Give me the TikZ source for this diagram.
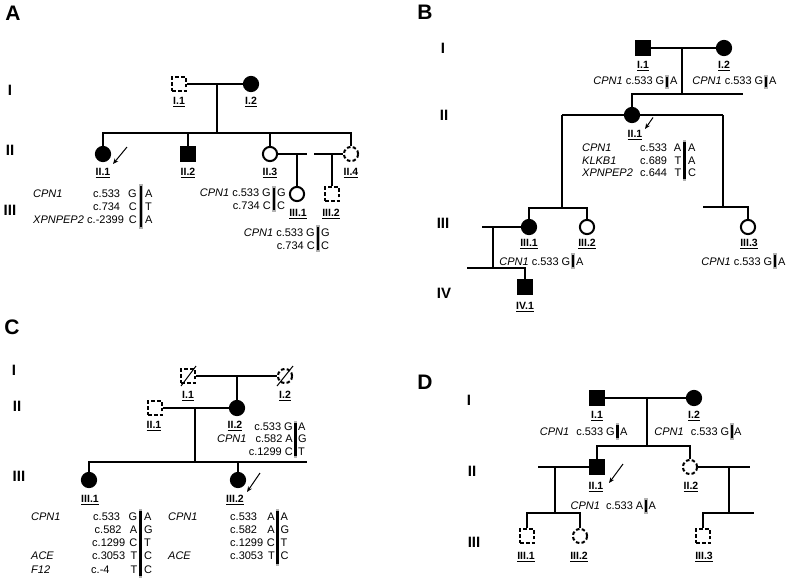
\documentclass[tikz,border=0pt]{standalone}
\usepackage{fontspec}
\setmainfont{Liberation Sans}
\usetikzlibrary{arrows.meta,calc}
\newcommand{\gbar}[3]{%
  \draw[line width=3.6pt, black!30] (#1,#2) -- (#1,#3);
  \draw[line width=2.1pt, black] (#1,#2+2) -- (#1,#3-2);}
\begin{document}
\begin{tikzpicture}[x=1pt,y=-1pt,
  ln/.style={line width=2pt, line join=miter},
  sq/.style={draw, line width=2pt, rectangle, minimum size=13.8pt, inner sep=0pt, fill=white},
  ci/.style={draw, line width=2pt, circle, minimum size=14.2pt, inner sep=0pt, fill=white},
  aff/.style={fill=black},
  unk/.style={dash pattern=on 3.6pt off 2.2pt},
  lab/.style={font=\bfseries\fontsize{10.5}{11}\selectfont, inner sep=0pt},
  gt/.style={font=\fontsize{11}{12}\selectfont, inner sep=0pt},
  gene/.style={font=\fontsize{11}{12}\selectfont\itshape, inner sep=0pt},
  gen/.style={font=\bfseries\fontsize{15}{16}\selectfont, inner sep=0pt},
  panel/.style={font=\bfseries\fontsize{21}{22}\selectfont, inner sep=0pt},
  arr/.style={-{Stealth[length=5.5pt,width=4.5pt]}, line width=1pt},
  slash/.style={line width=1pt}
]
\useasboundingbox[fill=white] (0,0) rectangle (789,579);

%%%%%%%%%%%%%%%% Panel A
\node[panel] (pA) at (13,13) {A};
\node[gen] (aI) at (10,90) {I};
\node[gen] (aII) at (10,150) {II};
\node[gen] (aIII) at (10,210) {III};

\node[sq,unk] (a11) at (179,84) {};
\node[ci,aff] (a12) at (251,84) {};
\node[lab] (a11l) at (179,102) {\underline{I.1}};
\node[lab] (a12l) at (251,102) {\underline{I.2}};
\coordinate (a1m) at (217,84);
\coordinate (a1s) at (217,133);

\node[ci,aff] (a21) at (103,154) {};
\node[sq,aff] (a22) at (188,154) {};
\node[ci] (a23) at (270,154) {};
\node[ci,unk] (a24) at (351,154) {};
\node[lab] (a21l) at (103,173) {\underline{II.1}};
\node[lab] (a22l) at (188,173) {\underline{II.2}};
\node[lab] (a23l) at (270,173) {\underline{II.3}};
\node[lab] (a24l) at (351,173) {\underline{II.4}};
\coordinate (a23r) at (307,154);
\coordinate (a24w) at (314,154);

\node[ci] (a31) at (297,194) {};
\node[sq,unk] (a32) at (332,194) {};
\node[lab] (a31l) at (298,214) {\underline{III.1}};
\node[lab] (a32l) at (331,214) {\underline{III.2}};

\draw[ln] (a11) -- (a12);
\draw[ln] (a1m) -- (a1s);
\draw[ln] (a21.north) |- (a1s) -| (a24.north);
\draw[ln] (a22.north) -- (a22.north |- a1s);
\draw[ln] (a23.north) -- (a23.north |- a1s);
\draw[ln] (a23) -- (a23r);
\draw[ln] (a24w) -- (a24);
\draw[ln] (a31.north) -- (a31.north |- a23r);
\draw[ln] (a32.north) -- (a32.north |- a24w);
\coordinate (aarS) at (127,147); \coordinate (aarE) at (113,164);
\draw[arr] (aarS) -- (aarE);

% II.1 genotype
\foreach \n/\y/\g/\p/\px/\u/\v in {1/197/CPN1/c.533/93/G/A, 2/210//c.734/93/C/T, 3/223/XPNPEP2/c.-2399/87/C/A}{
  \node[gene, anchor=base west] (ag\n) at (33,\y) {\g};
  \node[gt, anchor=base west] (ap\n) at (\px,\y) {\p};
  \node[gt, anchor=base east] (au\n) at (137,\y) {\u};
  \node[gt, anchor=base west] (av\n) at (145,\y) {\v};
}
\gbar{141}{184}{229}
% III.1 genotype (left)
\node[gt, anchor=base east] (bq1) at (271,196) {\textit{CPN1} c.533 G};
\node[gt, anchor=base west] (bv1) at (277,196) {G};
\node[gt, anchor=base east] (bq2) at (271,209) {c.734 C};
\node[gt, anchor=base west] (bv2) at (277,209) {C};
\gbar{274}{186}{212}
% III.2 genotype (below)
\node[gt, anchor=base east] (cq1) at (315,236) {\textit{CPN1} c.533 G};
\node[gt, anchor=base west] (cv1) at (321,236) {G};
\node[gt, anchor=base east] (cq2) at (315,249) {c.734 C};
\node[gt, anchor=base west] (cv2) at (321,249) {C};
\gbar{318}{225}{252}

%%%%%%%%%%%%%%%% Panel B
\node[panel] (pB) at (425,12) {B};
\node[gen] (bI) at (443,48) {I};
\node[gen] (bII) at (444,115) {II};
\node[gen] (bIII) at (443,223) {III};
\node[gen] (bIV) at (444,293) {IV};

\node[sq,aff] (b11) at (643,48) {};
\node[ci,aff] (b12) at (724,48) {};
\node[lab] (b11l) at (643,66) {\underline{I.1}};
\node[lab] (b12l) at (724,66) {\underline{I.2}};
\coordinate (b1m) at (682,48);
\coordinate (b1s) at (682,94);
\coordinate (b1r) at (743,94);

\coordinate (bL) at (562,115);
\coordinate (bR) at (723,115);
\draw[ln] (bL) -- (bR);
\node[ci,aff] (b21) at (632,115) {};
\node[lab] (b21l) at (635,135) {\underline{II.1}};

\coordinate (b3s) at (562,208);
\coordinate (b3t) at (723,207);
\coordinate (b3u) at (703,207);
\node[ci,aff] (b31) at (529,227) {};
\node[ci] (b32) at (587,227) {};
\node[ci] (b33) at (748,227) {};
\node[lab] (b31l) at (529,244) {\underline{III.1}};
\node[lab] (b32l) at (587,244) {\underline{III.2}};
\node[lab] (b33l) at (749,244) {\underline{III.3}};
\coordinate (b3m) at (482,227);
\coordinate (b3d) at (493,227);
\coordinate (b4s) at (493,268);
\coordinate (b4l) at (467,268);
\node[sq,aff] (b41) at (525,287) {};
\node[lab] (b41l) at (525,307) {\underline{IV.1}};

\draw[ln] (b11) -- (b12);
\draw[ln] (b1m) -- (b1s);
\draw[ln] (b21.north) |- (b1r);
\draw[ln] (bL) -- (b3s);
\draw[ln] (b31.north) |- (b3s) -| (b32.north);
\draw[ln] (bR) -- (b3t);
\draw[ln] (b3u) -| (b33.north);
\draw[ln] (b3m) -- (b31);
\draw[ln] (b3d) -- (b4s);
\draw[ln] (b4l) -| (b41.north);
\coordinate (barS) at (653,117.5); \coordinate (barE) at (645,129);
\draw[arr] (barS) -- (barE);

% genotypes
\node[gt, anchor=base east] (bg11) at (664.5,84) {\textit{CPN1} c.533 G};
\node[gt, anchor=base west] (bg12) at (670,84) {A};
\gbar{667}{75}{89}
\node[gt, anchor=base east] (bg21) at (763.5,84) {\textit{CPN1} c.533 G};
\node[gt, anchor=base west] (bg22) at (769,84) {A};
\gbar{766}{75}{89}
\foreach \n/\y/\g/\p/\u/\v in {1/151/CPN1/c.533/A/A, 2/164/KLKB1/c.689/T/A, 3/176/XPNPEP2/c.644/T/C}{
  \node[gene, anchor=base west] (bgg\n) at (582,\y) {\g};
  \node[gt, anchor=base west] (bgp\n) at (640,\y) {\p};
  \node[gt, anchor=base east] (bgu\n) at (681.5,\y) {\u};
  \node[gt, anchor=base west] (bgv\n) at (688,\y) {\v};
}
\gbar{684.5}{140}{181}
\node[gt, anchor=base east] (bg31) at (570.5,265) {\textit{CPN1} c.533 G};
\node[gt, anchor=base west] (bg32) at (576,265) {A};
\gbar{573}{253}{269}
\node[gt, anchor=base east] (bg41) at (772.5,265) {\textit{CPN1} c.533 G};
\node[gt, anchor=base west] (bg42) at (778,265) {A};
\gbar{775}{253}{269}

%%%%%%%%%%%%%%%% Panel C
\node[panel] (pC) at (12,327) {C};
\node[gen] (cI) at (14,370) {I};
\node[gen] (cII) at (17,406) {II};
\node[gen] (cIII) at (19,476) {III};

\node[sq,unk] (c11) at (188,376) {};
\node[ci,unk] (c12) at (285,376) {};
\draw[slash] ($(c11.center)+(-7,10)$) -- ($(c11.center)+(8,-10)$);
\draw[slash] ($(c12.center)+(-8,10)$) -- ($(c12.center)+(8,-10)$);
\node[lab] (c11l) at (188,396) {\underline{I.1}};
\node[lab] (c12l) at (285,396) {\underline{I.2}};
\node[sq,unk] (c21) at (155,408) {};
\node[ci,aff] (c22) at (237,408) {};
\node[lab] (c21l) at (154,426) {\underline{II.1}};
\node[lab] (c22l) at (235,426) {\underline{II.2}};
\coordinate (c2m) at (195,408);
\coordinate (c3s) at (195,462);
\coordinate (c3r) at (307,462);
\node[ci,aff] (c31) at (89,480) {};
\node[ci,aff] (c32) at (238,480) {};
\node[lab] (c31l) at (90,500) {\underline{III.1}};
\node[lab] (c32l) at (235,500) {\underline{III.2}};

\draw[ln] (c11) -- (c12);
\draw[ln] (c22.north |- c11.east) -- (c22.north);
\draw[ln] (c21) -- (c22);
\draw[ln] (c2m) -- (c3s);
\draw[ln] (c31.north) |- (c3r);
\draw[ln] (c32.north) -- (c32.north |- c3r);
\coordinate (carS) at (260,473); \coordinate (carE) at (247,492);
\draw[arr] (carS) -- (carE);

% II.2 genotype
\node[gt, anchor=base east] (cg11) at (293,430) {c.533 G};
\node[gt, anchor=base west] (cg12) at (298,430) {A};
\node[gene, anchor=base west] (cg2g) at (217,442) {CPN1};
\node[gt, anchor=base east] (cg21) at (293,442) {c.582 A};
\node[gt, anchor=base west] (cg22) at (298,442) {G};
\node[gt, anchor=base east] (cg31) at (293,455) {c.1299 C};
\node[gt, anchor=base west] (cg32) at (298,455) {T};
\gbar{295.5}{421}{458}
% III.1 genotype
\foreach \n/\y/\g/\p/\px/\u/\v in {1/520/CPN1/c.533/93/G/A, 2/533//c.582/94.5/A/G, 3/546//c.1299/92/C/T, 4/559/ACE/c.3053/92/T/C, 5/573/F12/c.-4/91/T/C}{
  \node[gene, anchor=base west] (cgg\n) at (31,\y) {\g};
  \node[gt, anchor=base west] (cgp\n) at (\px,\y) {\p};
  \node[gt, anchor=base east] (cgu\n) at (137.5,\y) {\u};
  \node[gt, anchor=base west] (cgv\n) at (144,\y) {\v};
}
\gbar{140.5}{509}{578}
% III.2 genotype
\foreach \n/\y/\g/\p/\u/\v in {1/520/CPN1/c.533/A/A, 2/533//c.582/A/G, 3/546//c.1299/C/T, 4/559/ACE/c.3053/T/C}{
  \node[gene, anchor=base west] (chg\n) at (168,\y) {\g};
  \node[gt, anchor=base west] (chp\n) at (230,\y) {\p};
  \node[gt, anchor=base east] (chu\n) at (275,\y) {\u};
  \node[gt, anchor=base west] (chv\n) at (280.5,\y) {\v};
}
\gbar{277.5}{509}{566}

%%%%%%%%%%%%%%%% Panel D
\node[panel] (pD) at (425,382) {D};
\node[gen] (dI) at (469,400) {I};
\node[gen] (dII) at (472,471) {II};
\node[gen] (dIII) at (474,542) {III};

\node[sq,aff] (d11) at (597,398) {};
\node[ci,aff] (d12) at (694,398) {};
\node[lab] (d11l) at (597,416) {\underline{I.1}};
\node[lab] (d12l) at (694,416) {\underline{I.2}};
\coordinate (d1m) at (647,398);
\coordinate (d1s) at (647,446);
\node[sq,aff] (d21) at (597,467) {};
\node[ci,unk] (d22) at (690,467) {};
\node[lab] (d21l) at (596,487) {\underline{II.1}};
\node[lab] (d22l) at (691,487) {\underline{II.2}};
\coordinate (d2l) at (538,467);
\coordinate (d2a) at (555,467);
\coordinate (d3a) at (555,513);
\coordinate (d2r) at (750,467);
\coordinate (d2b) at (729,467);
\coordinate (d3b) at (729,513);
\coordinate (d3e) at (754,513);
\node[sq,unk] (d31) at (527,536) {};
\node[ci,unk] (d32) at (580,536) {};
\node[sq,unk] (d33) at (703,536) {};
\node[lab] (d31l) at (526,557) {\underline{III.1}};
\node[lab] (d32l) at (579,557) {\underline{III.2}};
\node[lab] (d33l) at (704,557) {\underline{III.3}};

\draw[ln] (d11) -- (d12);
\draw[ln] (d1m) -- (d1s);
\draw[ln] (d21.north) |- (d1s) -| (d22.north);
\draw[ln] (d2l) -- (d21);
\draw[ln] (d2a) -- (d3a);
\draw[ln] (d31.north) |- (d3a) -| (d32.north);
\draw[ln] (d22) -- (d2r);
\draw[ln] (d2b) -- (d3b);
\draw[ln] (d33.north) |- (d3e);
\coordinate (darS) at (623,464); \coordinate (darE) at (609,483);
\draw[arr] (darS) -- (darE);

\node[gt, anchor=base east] (dg11) at (615,435) {\textit{CPN1}\hspace{4pt} c.533 G};
\node[gt, anchor=base west] (dg12) at (620,435) {A};
\gbar{617.5}{423}{440}
\node[gt, anchor=base east] (dg21) at (729.5,435) {\textit{CPN1}\hspace{4pt} c.533 G};
\node[gt, anchor=base west] (dg22) at (734,435) {A};
\gbar{732}{423}{440}
\node[gt, anchor=base east] (dg31) at (643.5,509) {\textit{CPN1}\hspace{3pt} c.533 A};
\node[gt, anchor=base west] (dg32) at (648.5,509) {A};
\gbar{646}{498}{514}
\end{tikzpicture}
\end{document}
